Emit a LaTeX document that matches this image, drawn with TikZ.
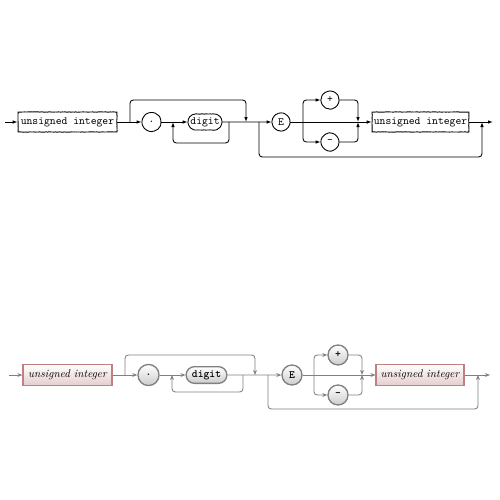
\documentclass[tikz,border=0pt]{standalone}
\usetikzlibrary{arrows.meta,shapes.misc,decorations.pathmorphing,calc}
\begin{document}
\begin{tikzpicture}[x=0.9pt,y=-0.9pt,
 fuzzy/.style={decorate,decoration={random steps,segment length=1.2pt,amplitude=0.18pt}},
 tln/.style={thick,rounded corners=3pt,line join=round},
 tarr/.style={tln,-{Latex[length=4.5pt,width=3.2pt]}},
 tbox/.style={draw,thick,fuzzy,rectangle,font=\ttfamily,minimum height=18pt,inner sep=1pt},
 tcirc/.style={draw,thick,fuzzy,circle,font=\ttfamily,minimum size=16pt,inner sep=0pt},
 tterm/.style={draw,thick,fuzzy,rounded rectangle,font=\ttfamily,minimum height=14.4pt,minimum width=32.4pt,inner sep=1pt},
 bln/.style={thick,draw=black!50,rounded corners=3pt},
 barr/.style={bln,-{Stealth[length=4.5pt,width=3.5pt]}},
 bnt/.style={rectangle,very thick,draw=red!50!black!50,top color=white,bottom color=red!50!black!20,font=\itshape,minimum height=19pt,inner sep=1pt},
 bcirc/.style={circle,very thick,draw=black!50,top color=white,bottom color=black!20,font=\ttfamily\bfseries,minimum size=18pt,inner sep=0pt},
 bterm/.style={rounded rectangle,very thick,draw=black!50,top color=white,bottom color=black!20,font=\ttfamily\bfseries,minimum height=15pt,minimum width=38.7pt,inner sep=1pt}]
\pgfmathsetseed{3}
\useasboundingbox (0,0) rectangle (500,500);
% ---------- top (hand drawn) ----------
\node[tbox,minimum width=89pt] (tb1) at (67.5,122) {unsigned integer};
\node[tcirc,minimum size=17pt] (tdot) at (151.5,122) {.};
\node[tterm] (tdig) at (205,122) {digit};
\node[tcirc] (tE) at (281,122) {E};
\node[tcirc] (tp) at (330,100) {+};
\node[tcirc] (tm) at (330,142) {-};
\node[tbox,minimum width=87pt] (tb2) at (420.5,122) {unsigned integer};
\coordinate (ts) at (5,122);
\coordinate (tA) at (130,122); \coordinate (tA1) at (130,100);
\coordinate (tB) at (246,122); \coordinate (tB1) at (246,100);
\coordinate (tC) at (229,122); \coordinate (tC1) at (229,143);
\coordinate (tD) at (173,122); \coordinate (tD1) at (173,143);
\coordinate (tF) at (303,122); \coordinate (tF1) at (303,100); \coordinate (tF2) at (303,142);
\coordinate (tG) at (358,122); \coordinate (tG1) at (358,100); \coordinate (tG2) at (358,142);
\coordinate (tK) at (259,122); \coordinate (tK1) at (259,157);
\coordinate (tH) at (482,122); \coordinate (tH1) at (482,157);
\coordinate (tend) at (493,122);
\draw[tarr] (ts) -- (tb1);
\draw[tarr] (tb1) -- (tdot);
\draw[tarr] (tdot) -- (tdig);
\draw[tarr] (tdig) -- (tE);
\draw[tarr] (tA) -- (tA1) -- (tB1) -- (tB);
\draw[tarr] (tC) -- (tC1) -- (tD1) -- (tD);
\draw[tarr] (tE) -- (tb2);
\draw[tarr] (tF) -- (tF1) -- (tp);
\draw[tarr] (tF) -- (tF2) -- (tm);
\draw[tarr] (tp) -- (tG1) -- (tG);
\draw[tarr] (tm) -- (tG2) -- (tG);
\draw[tarr] (tb2) -- (tend);
\draw[tarr] (tK) -- (tK1) -- (tH1) -- (tH);
% ---------- bottom (shaded) ----------
\node[bnt,minimum width=80pt] (bb1) at (67.5,375) {unsigned integer};
\node[bcirc,minimum size=19pt] (bdot) at (148.5,375) {.};
\node[bterm] (bdig) at (206.5,375) {digit};
\node[bcirc] (bE) at (292,375) {E};
\node[bcirc] (bp) at (338,355) {+};
\node[bcirc] (bm) at (338,395) {-};
\node[bnt,minimum width=79pt] (bb2) at (420,375) {unsigned integer};
\coordinate (bs) at (9,375);
\coordinate (bA) at (125,375); \coordinate (bA1) at (125,355);
\coordinate (bB) at (255,375); \coordinate (bB1) at (255,355);
\coordinate (bC) at (243,375); \coordinate (bC1) at (243,392);
\coordinate (bD) at (172,375); \coordinate (bD1) at (172,392);
\coordinate (bF) at (314,375); \coordinate (bF1) at (314,355); \coordinate (bF2) at (314,395);
\coordinate (bG) at (362,375); \coordinate (bG1) at (362,355); \coordinate (bG2) at (362,395);
\coordinate (bK) at (268,375); \coordinate (bK1) at (268,409);
\coordinate (bH) at (478,375); \coordinate (bH1) at (478,409);
\coordinate (bend) at (490,375);
\draw[barr] (bs) -- (bb1);
\draw[barr] (bb1) -- (bdot);
\draw[barr] (bdot) -- (bdig);
\draw[barr] (bdig) -- (bE);
\draw[barr] (bA) -- (bA1) -- (bB1) -- (bB);
\draw[barr] (bC) -- (bC1) -- (bD1) -- (bD);
\draw[barr] (bE) -- (bb2);
\draw[barr] (bF) -- (bF1) -- (bp);
\draw[barr] (bF) -- (bF2) -- (bm);
\draw[barr] (bp) -- (bG1) -- (bG);
\draw[barr] (bm) -- (bG2) -- (bG);
\draw[barr] (bb2) -- (bend);
\draw[barr] (bK) -- (bK1) -- (bH1) -- (bH);
\end{tikzpicture}
\end{document}
